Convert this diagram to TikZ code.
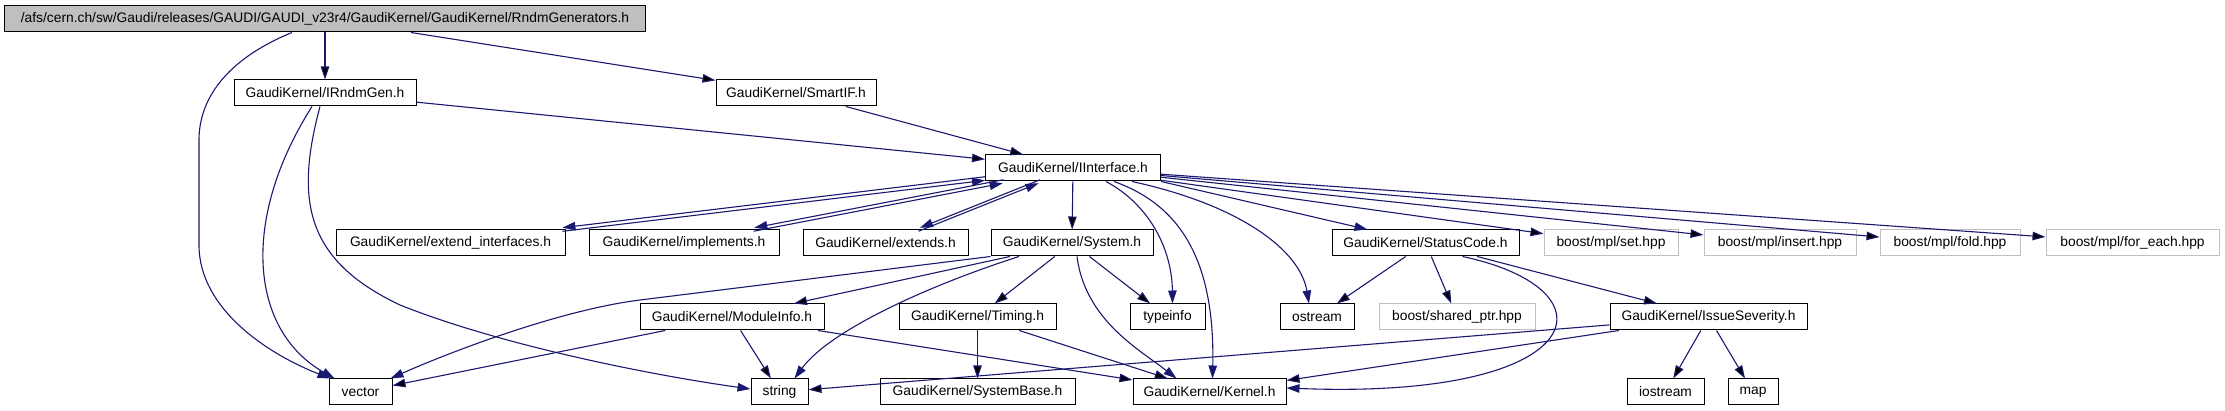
\documentclass[tikz,border=0pt]{standalone}
\usepackage{fontspec}
\setmainfont{Liberation Sans}
\usetikzlibrary{arrows.meta}
\definecolor{edgeblue}{HTML}{191970}
\definecolor{boxgray}{HTML}{BFBFBF}

\begin{document}
\begin{tikzpicture}[x=1pt,y=-1pt,
 file node/.style={rectangle,draw,fill=white,line width=1pt,minimum height=26pt,
   inner sep=0pt,font=\fontsize{13.8}{16}\selectfont},
 root node/.style={file node,fill=boxgray},
 ext node/.style={file node,draw=boxgray},
 inc/.style={draw=edgeblue,line width=1.1pt,-{Triangle[length=13pt,width=8.5pt]}}]
  \useasboundingbox (0,0) rectangle (2225,411);

  % top rows
  \node[root node,minimum width=641pt] (1) at (325,19) {/afs/cern.ch/sw/Gaudi/releases/GAUDI/GAUDI\_v23r4/GaudiKernel/GaudiKernel/RndmGenerators.h};
  \node[file node,minimum width=182pt] (2) at (325,93) {GaudiKernel/IRndmGen.h};
  \node[file node,minimum width=160pt] (3) at (796,93) {GaudiKernel/SmartIF.h};
  \node[file node,minimum width=175pt] (4) at (1073,168) {GaudiKernel/IInterface.h};

  % third row
  \node[file node,minimum width=229pt] (5) at (450.5,243) {GaudiKernel/extend\_interfaces.h};
  \node[file node,minimum width=190pt] (6) at (684,243) {GaudiKernel/implements.h};
  \node[file node,minimum width=165pt] (7) at (885.5,243) {GaudiKernel/extends.h};
  \node[file node,minimum width=162pt] (8) at (1072,243) {GaudiKernel/System.h};
  \node[file node,minimum width=187pt] (9) at (1425.5,243) {GaudiKernel/StatusCode.h};
  \node[ext node,minimum width=134pt] (10) at (1611,243) {boost/mpl/set.hpp};
  \node[ext node,minimum width=152pt] (11) at (1780,243) {boost/mpl/insert.hpp};
  \node[ext node,minimum width=140pt] (12) at (1950,243) {boost/mpl/fold.hpp};
  \node[ext node,minimum width=173pt] (13) at (2132.5,243) {boost/mpl/for\_each.hpp};

  % fourth row
  \node[file node,minimum width=184pt] (14) at (732,317) {GaudiKernel/ModuleInfo.h};
  \node[file node,minimum width=157pt] (15) at (977.5,317) {GaudiKernel/Timing.h};
  \node[file node,minimum width=75pt] (16) at (1167.5,317) {typeinfo};
  \node[file node,minimum width=74pt] (17) at (1317,317) {ostream};
  \node[ext node,minimum width=156pt] (18) at (1457,317) {boost/shared\_ptr.hpp};
  \node[file node,minimum width=197pt] (19) at (1708.5,317) {GaudiKernel/IssueSeverity.h};

  % bottom row
  \node[file node,minimum width=63pt] (20) at (360.5,392) {vector};
  \node[file node,minimum width=57pt] (21) at (779.5,392) {string};
  \node[file node,minimum width=195pt] (22) at (977.5,392) {GaudiKernel/SystemBase.h};
  \node[file node,minimum width=153pt] (23) at (1209.5,392) {GaudiKernel/Kernel.h};
  \node[file node,minimum width=77pt] (24) at (1665.5,392) {iostream};
  \node[file node,minimum width=50pt] (25) at (1753,392) {map};

  \foreach \s/\t in {1/2, 1/3, 2/4, 3/4, 4/8, 4/10, 4/11, 4/12, 4/13, 8/14, 8/15, 8/16,
    14/20, 14/21, 14/23, 15/22, 15/23, 9/17, 9/18, 9/19, 19/21, 19/23, 19/24, 19/25} {
   \path[inc] (\s) edge (\t);}
  \draw[inc] (4.south east) -- (9);

  % circular includes
  \draw[inc,transform canvas={yshift=1.8pt}] (4) -- (5);
  \draw[inc,transform canvas={yshift=-1.8pt}] (5) -- (4);
  \draw[inc,transform canvas={xshift=0.35pt,yshift=1.75pt}] (4) -- (6);
  \draw[inc,transform canvas={xshift=-0.35pt,yshift=-1.75pt}] (6) -- (4);
  \draw[inc,transform canvas={xshift=0.7pt,yshift=1.7pt}] (4) -- (7);
  \draw[inc,transform canvas={xshift=-0.7pt,yshift=-1.7pt}] (7) -- (4);

  % curved edges
  \draw[inc] ([xshift=-33pt]1.south) .. controls (225,60) and (199,100) .. (199,140)
    -- (199,245) .. controls (199,310) and (270,355) .. ([xshift=2pt]20.north west);
  \draw[inc] ([xshift=-13pt]2.south) .. controls (240,220) and (250,330) .. ([xshift=6pt]20.north west);
  \draw[inc] ([xshift=-5pt]2.south) .. controls (295,200) and (305,260) .. (400,305)
    .. controls (500,345) and (650,375) .. ([yshift=3pt]21.west);
  \draw[inc] ([xshift=33pt]4.south) .. controls (1150,205) and (1172,250) .. ([xshift=5pt]16.north);
  \draw[inc] ([xshift=41pt]4.south) .. controls (1180,205) and (1215,260) .. ([xshift=3pt]23.north);
  \draw[inc] ([xshift=59pt]4.south) .. controls (1240,205) and (1300,250) .. ([xshift=-8pt]17.north);
  \draw[inc] (8.south west) -- (640,300) .. controls (560,310) and (450,352) .. ([xshift=-2pt]20.north east);
  \draw[inc] ([xshift=-53pt]8.south) .. controls (930,285) and (830,330) .. ([xshift=15pt]21.north);
  \draw[inc] ([xshift=5pt]8.south) .. controls (1085,320) and (1140,350) .. ([xshift=-33pt]23.north);
  \draw[inc] ([xshift=37pt]9.south) .. controls (1620,290) and (1590,400) .. ([yshift=4pt]23.east);
\end{tikzpicture}
\end{document}
